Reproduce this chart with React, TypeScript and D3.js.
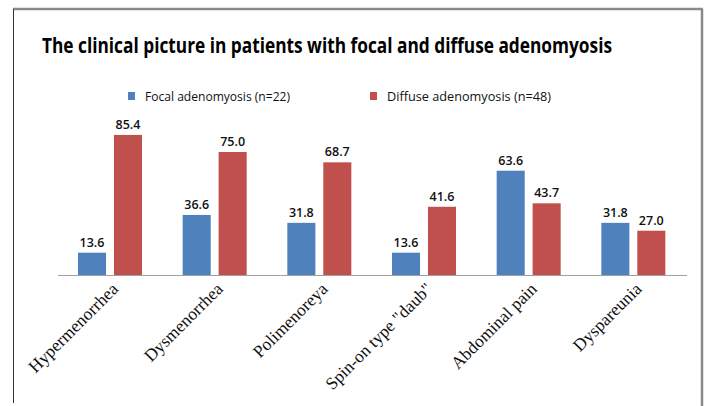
import React, { useEffect, useRef } from 'react';
import * as d3 from 'd3';

const categories = [
  'Hypermenorrhea',
  'Dysmenorrhea',
  'Polimenoreya',
  'Spin-on type "daub"',
  'Abdominal pain',
  'Dyspareunia',
];
const focal = [13.6, 36.6, 31.8, 13.6, 63.6, 31.8];
const diffuse = [85.4, 75.0, 68.7, 41.6, 43.7, 27.0];
const seriesNames = ['Focal adenomyosis (n=22)', 'Diffuse adenomyosis (n=48)'];
const seriesColors = ['#4F81BD', '#C0504D'];

const App: React.FC = () => {
  const svgRef = useRef<SVGSVGElement>(null);

  useEffect(() => {
    if (!svgRef.current) return;
    const svg = d3.select(svgRef.current);
    svg.selectAll('*').remove();

    const W = 705;
    const H = 406;
    const baseY = 275;

    svg.append('rect').attr('width', W).attr('height', H).attr('fill', '#fff');

    // frame
    svg.append('line')
      .attr('x1', 13).attr('x2', 703).attr('y1', 9).attr('y2', 9)
      .attr('stroke', '#8a8a8a').attr('stroke-width', 2.5);
    svg.append('line')
      .attr('x1', 13.5).attr('x2', 13.5).attr('y1', 9).attr('y2', 403)
      .attr('stroke', '#333').attr('stroke-width', 1);
    svg.append('line')
      .attr('x1', 702).attr('x2', 702).attr('y1', 9).attr('y2', 406)
      .attr('stroke', '#8a8a8a').attr('stroke-width', 2.5);

    // title
    svg.append('text')
      .attr('x', 42).attr('y', 53)
      .attr('font-family', '"Open Sans", sans-serif')
      .attr('font-weight', 700)
      .attr('font-size', 21)
      .attr('textLength', 570)
      .attr('lengthAdjust', 'spacingAndGlyphs')
      .attr('fill', '#000')
      .text('The clinical picture in patients with focal and diffuse adenomyosis');

    // legend
    const legendX = [128, 370];
    const legendW = [145, 164];
    seriesNames.forEach((name, i) => {
      svg.append('rect')
        .attr('x', legendX[i]).attr('y', 92).attr('width', 7).attr('height', 8)
        .attr('fill', seriesColors[i]);
      svg.append('text')
        .attr('x', legendX[i] + 17).attr('y', 101)
        .attr('font-family', '"Open Sans", sans-serif')
        .attr('font-size', 13)
        .attr('textLength', legendW[i])
        .attr('lengthAdjust', 'spacingAndGlyphs')
        .attr('fill', '#111')
        .text(name);
    });

    const x0 = d3.scaleBand<string>().domain(categories).range([58, 686]).padding(0);
    const x1 = d3.scaleBand<number>().domain([0, 1]).range([20, 84]).paddingInner(0.22).paddingOuter(0);
    const y = d3.scaleLinear().domain([0, 100]).range([baseY, 111]);

    const series = [focal, diffuse];
    series.forEach((vals, s) => {
      const g = svg.append('g');
      g.selectAll('rect')
        .data(vals)
        .enter()
        .append('rect')
        .attr('x', (_, i) => (x0(categories[i]) || 0) + (x1(s) || 0))
        .attr('y', d => y(d))
        .attr('width', x1.bandwidth())
        .attr('height', d => baseY - y(d))
        .attr('fill', seriesColors[s]);
      g.selectAll('text')
        .data(vals)
        .enter()
        .append('text')
        .attr('x', (_, i) => (x0(categories[i]) || 0) + (x1(s) || 0) + x1.bandwidth() / 2)
        .attr('y', d => y(d) - 6)
        .attr('text-anchor', 'middle')
        .attr('font-family', '"Open Sans", sans-serif')
        .attr('font-weight', 600)
        .attr('font-size', 12.5)
        .attr('fill', '#111')
        .text(d => d.toFixed(1));
    });

    // baseline
    svg.append('line')
      .attr('x1', 58).attr('x2', 687).attr('y1', baseY + 0.5).attr('y2', baseY + 0.5)
      .attr('stroke', '#a0a0a0').attr('stroke-width', 1.2);

    // category labels
    svg.append('g')
      .selectAll('text')
      .data(categories)
      .enter()
      .append('text')
      .attr('transform', d => {
        const cx = (x0(d) || 0) + x0.bandwidth() / 2 + 9;
        return `translate(${cx},${baseY + 15}) rotate(-45)`;
      })
      .attr('text-anchor', 'end')
      .attr('font-family', '"Liberation Serif", "Times New Roman", serif')
      .attr('font-size', 17.5)
      .attr('fill', '#111')
      .text(d => d);
  }, []);

  return <svg ref={svgRef} width={705} height={406} style={{ display: 'block', position: 'absolute', left: 0, top: 0 }} />;
};

export default App;
